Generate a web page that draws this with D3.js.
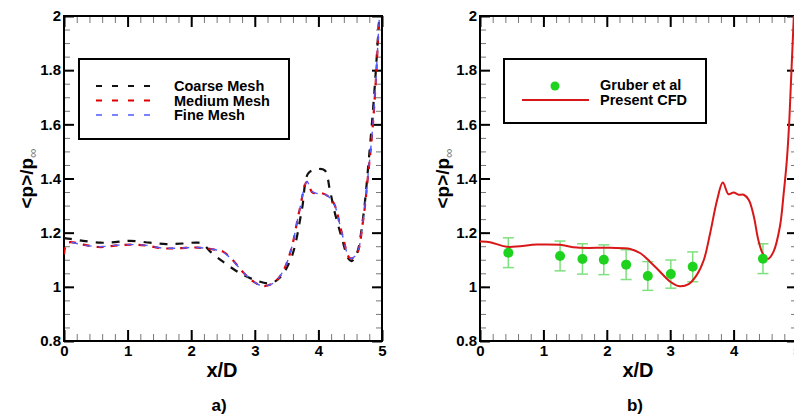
<!DOCTYPE html>
<html>
<head>
<meta charset="utf-8">
<script src="https://cdn.jsdelivr.net/npm/d3@7"></script>
<style>
  body { margin: 0; background: #fff; }
  svg { display: block; font-family: "Liberation Sans", Arial, sans-serif; }
  .tick text { font-size: 15px; font-weight: bold; fill: #000; }
</style>
</head>
<body>
<div id="vis"></div>
<script>
// ---- data ----
var xCoarse = [0, 0.1, 0.3, 0.57, 0.8, 1.04, 1.35, 1.61, 1.87, 2.11, 2.2, 2.3, 2.5, 2.77, 3.03, 3.24, 3.4, 3.58, 3.74, 3.84, 3.97, 4.1, 4.18, 4.26, 4.37, 4.47, 4.52, 4.6, 4.7, 4.8, 4.88, 4.95, 4.98];
var pCoarse = [1.18, 1.177, 1.17, 1.163, 1.165, 1.17, 1.163, 1.158, 1.16, 1.163, 1.155, 1.13, 1.093, 1.05, 1.023, 1.013, 1.035, 1.111, 1.284, 1.419, 1.434, 1.43, 1.358, 1.272, 1.179, 1.105, 1.095, 1.12, 1.25, 1.49, 1.72, 1.97, 2.08];

var xMedium = [0, 0.04, 0.1, 0.3, 0.55, 0.8, 1.05, 1.3, 1.55, 1.8, 2.1, 2.35, 2.5, 2.65, 2.8, 2.98, 3.13, 3.3, 3.45, 3.58, 3.7, 3.82, 3.9, 3.97, 4.05, 4.15, 4.25, 4.37, 4.5, 4.6, 4.7, 4.78, 4.85, 4.9, 4.95];
var pMedium = [1.12, 1.16, 1.165, 1.156, 1.147, 1.152, 1.156, 1.152, 1.142, 1.143, 1.145, 1.138, 1.13, 1.1, 1.058, 1.019, 1.003, 1.015, 1.06, 1.145, 1.28, 1.388, 1.35, 1.345, 1.346, 1.335, 1.305, 1.198, 1.105, 1.12, 1.24, 1.41, 1.58, 1.75, 1.97];

var xFine = [0, 0.1, 0.3, 0.55, 0.8, 1.05, 1.3, 1.55, 1.8, 2.1, 2.35, 2.5, 2.65, 2.8, 2.98, 3.13, 3.3, 3.45, 3.58, 3.7, 3.82, 3.9, 3.97, 4.05, 4.15, 4.25, 4.37, 4.5, 4.6, 4.7, 4.78, 4.85, 4.9, 4.96, 4.99];
var pFine = [1.165, 1.165, 1.155, 1.148, 1.153, 1.156, 1.153, 1.143, 1.143, 1.145, 1.138, 1.128, 1.098, 1.058, 1.019, 1.003, 1.015, 1.06, 1.145, 1.28, 1.388, 1.352, 1.345, 1.346, 1.335, 1.305, 1.198, 1.105, 1.12, 1.24, 1.41, 1.58, 1.75, 2.0, 2.1];

var xCfd = [0, 0.16, 0.42, 0.9, 1.26, 1.53, 2.05, 2.37, 2.53, 2.68, 2.84, 3.0, 3.13, 3.29, 3.42, 3.53, 3.63, 3.74, 3.83, 3.92, 4.0, 4.08, 4.16, 4.24, 4.32, 4.39, 4.47, 4.54, 4.63, 4.73, 4.79, 4.84, 4.88, 4.95, 4.98];
var pCfd = [1.167, 1.165, 1.148, 1.156, 1.155, 1.145, 1.144, 1.14, 1.124, 1.093, 1.056, 1.019, 1.003, 1.01, 1.044, 1.099, 1.198, 1.321, 1.385, 1.342, 1.348, 1.34, 1.34, 1.321, 1.259, 1.173, 1.118, 1.103, 1.13, 1.222, 1.345, 1.468, 1.62, 2.0, 2.1];

var xExp = [0.447, 1.263, 1.616, 1.953, 2.305, 2.647, 3.01, 3.355, 4.463];
var pExp = [1.126, 1.114, 1.103, 1.1, 1.082, 1.04, 1.047, 1.074, 1.104];
var errExp = [0.055, 0.055, 0.056, 0.055, 0.055, 0.053, 0.052, 0.055, 0.055];

var xTicks = [0, 1, 2, 3, 4, 5];
var yTicks = [0.8, 1, 1.2, 1.4, 1.6, 1.8, 2];

var plotTop = 16, plotBottom = 341;

var svg = d3.select("#vis").append("svg")
  .attr("width", 794)
  .attr("height", 416);

function zip(xs, ys) {
  return xs.map(function(d, i) { return [d, ys[i]]; });
}

function panel(id, left, right, xLabelX, yLabelX, tag) {
  var x = d3.scaleLinear().domain([0, 5]).range([left, right]);
  var y = d3.scaleLinear().domain([0.8, 2]).range([plotBottom, plotTop]);
  var g = svg.append("g");

  g.append("clipPath").attr("id", "clip" + id)
    .append("rect")
    .attr("x", left).attr("y", plotTop)
    .attr("width", right - left).attr("height", plotBottom - plotTop);

  var xMinor = d3.range(0, 5.001, 0.2);
  var yMinor = d3.range(0.8, 2.001, 0.05);

  function fmt(d) { return d3.format("~g")(d); }

  // minor ticks, all four sides
  var mnr = g.append("g");
  mnr.append("g").attr("transform", "translate(0," + plotBottom + ")")
    .call(d3.axisBottom(x).tickValues(xMinor).tickSize(-7).tickFormat(""));
  mnr.append("g").attr("transform", "translate(0," + plotTop + ")")
    .call(d3.axisTop(x).tickValues(xMinor).tickSize(-7).tickFormat(""));
  mnr.append("g").attr("transform", "translate(" + left + ",0)")
    .call(d3.axisLeft(y).tickValues(yMinor).tickSize(-6).tickFormat(""));
  mnr.append("g").attr("transform", "translate(" + right + ",0)")
    .call(d3.axisRight(y).tickValues(yMinor).tickSize(-6).tickFormat(""));
  mnr.selectAll("line").attr("stroke", "#777").attr("stroke-width", 1);

  // major ticks
  var maj = g.append("g");
  maj.append("g").attr("transform", "translate(0," + plotBottom + ")")
    .call(d3.axisBottom(x).tickValues(xTicks).tickSize(-11).tickPadding(4).tickFormat(fmt));
  maj.append("g").attr("transform", "translate(0," + plotTop + ")")
    .call(d3.axisTop(x).tickValues(xTicks).tickSize(-11).tickFormat(""));
  maj.append("g").attr("transform", "translate(" + left + ",0)")
    .call(d3.axisLeft(y).tickValues(yTicks).tickSize(-10).tickPadding(3).tickFormat(fmt));
  maj.append("g").attr("transform", "translate(" + right + ",0)")
    .call(d3.axisRight(y).tickValues(yTicks).tickSize(-10).tickFormat(""));
  maj.selectAll("line").attr("stroke", "#000").attr("stroke-width", 2);
  g.selectAll(".domain").remove();
  g.selectAll(".tick text").attr("font-family", null).attr("font-size", null);

  g.append("rect")
    .attr("x", left).attr("y", plotTop)
    .attr("width", right - left).attr("height", plotBottom - plotTop)
    .attr("fill", "none").attr("stroke", "#000").attr("stroke-width", 2);

  g.append("text")
    .attr("x", xLabelX).attr("y", 377)
    .attr("text-anchor", "middle")
    .attr("font-size", 20).attr("font-weight", "bold")
    .text("x/D");

  var yl = g.append("text")
    .attr("transform", "translate(" + yLabelX + "," + ((plotTop + plotBottom) / 2) + ") rotate(-90)")
    .attr("text-anchor", "middle")
    .attr("font-size", 19).attr("font-weight", "bold");
  yl.append("tspan").text("<p>/p");
  yl.append("tspan").attr("font-size", 13).attr("font-weight", "normal")
    .attr("fill", "#777").attr("dy", 4).text("\u221e");

  g.append("text")
    .attr("x", xLabelX - 3).attr("y", 411)
    .attr("text-anchor", "middle")
    .attr("font-size", 17).attr("font-weight", "bold")
    .text(tag);

  var line = d3.line()
    .x(function(d) { return x(d[0]); })
    .y(function(d) { return y(d[1]); })
    .curve(d3.curveCatmullRom.alpha(0.5));

  var plot = g.append("g").attr("clip-path", "url(#clip" + id + ")");
  return { x: x, y: y, g: g, plot: plot, line: line };
}

// ---- panel a ----
var a = panel("a", 64, 382, 222, 33, "a)");

a.plot.append("path").datum(zip(xCoarse, pCoarse))
  .attr("d", a.line).attr("fill", "none")
  .attr("stroke", "#111").attr("stroke-width", 2.2).attr("stroke-dasharray", "8,8");
a.plot.append("path").datum(zip(xMedium, pMedium))
  .attr("d", a.line).attr("fill", "none")
  .attr("stroke", "#e00000").attr("stroke-width", 2.2).attr("stroke-dasharray", "7,7");
a.plot.append("path").datum(zip(xFine, pFine))
  .attr("d", a.line).attr("fill", "none")
  .attr("stroke", "#4f5cff").attr("stroke-width", 1.4).attr("stroke-dasharray", "7,7")
  .attr("stroke-dashoffset", 7);

var legA = a.g.append("g");
legA.append("rect")
  .attr("x", 79).attr("y", 59).attr("width", 210).attr("height", 80)
  .attr("fill", "#fff").attr("stroke", "#000").attr("stroke-width", 2);
var legItems = [
  { name: "Coarse Mesh", color: "#111", w: 2.2 },
  { name: "Medium Mesh", color: "#e00000", w: 2.2 },
  { name: "Fine Mesh", color: "#4f5cff", w: 1.4 }
];
legItems.forEach(function(d, i) {
  var yy = 86 + i * 14.5;
  legA.append("line")
    .attr("x1", 96).attr("x2", 157).attr("y1", yy).attr("y2", yy)
    .attr("stroke", d.color).attr("stroke-width", d.w).attr("stroke-dasharray", "6,10");
  legA.append("text")
    .attr("x", 174).attr("y", yy + 5)
    .attr("font-size", 14.5).attr("font-weight", "bold")
    .text(d.name);
});

// ---- panel b ----
var b = panel("b", 480, 797, 638, 449, "b)");

var exp = zip(xExp, pExp).map(function(d, i) { return { x: d[0], p: d[1], e: errExp[i] }; });
var eb = b.plot.append("g").attr("stroke", "#7ee07e").attr("stroke-width", 1.5);
eb.selectAll(".v").data(exp).enter().append("line")
  .attr("x1", function(d) { return b.x(d.x); }).attr("x2", function(d) { return b.x(d.x); })
  .attr("y1", function(d) { return b.y(d.p + d.e); }).attr("y2", function(d) { return b.y(d.p - d.e); });
[1, -1].forEach(function(s) {
  eb.selectAll(".c" + s).data(exp).enter().append("line")
    .attr("x1", function(d) { return b.x(d.x) - 5.5; }).attr("x2", function(d) { return b.x(d.x) + 5.5; })
    .attr("y1", function(d) { return b.y(d.p + s * d.e); }).attr("y2", function(d) { return b.y(d.p + s * d.e); });
});

b.plot.append("path").datum(zip(xCfd, pCfd))
  .attr("d", b.line).attr("fill", "none")
  .attr("stroke", "#d81818").attr("stroke-width", 2);

b.plot.selectAll("circle").data(exp).enter().append("circle")
  .attr("cx", function(d) { return b.x(d.x); })
  .attr("cy", function(d) { return b.y(d.p); })
  .attr("r", 5)
  .attr("fill", "#1ed21e");

var legB = b.g.append("g");
legB.append("rect")
  .attr("x", 504).attr("y", 59).attr("width", 202).attr("height", 64)
  .attr("fill", "#fff").attr("stroke", "#000").attr("stroke-width", 2);
legB.append("circle").attr("cx", 555).attr("cy", 86).attr("r", 4.5).attr("fill", "#1ed21e");
legB.append("line").attr("x1", 522).attr("x2", 589).attr("y1", 100).attr("y2", 100)
  .attr("stroke", "#d81818").attr("stroke-width", 2);
legB.append("text").attr("x", 600).attr("y", 90)
  .attr("font-size", 14.5).attr("font-weight", "bold").text("Gruber et al");
legB.append("text").attr("x", 600).attr("y", 105)
  .attr("font-size", 14.5).attr("font-weight", "bold").text("Present CFD");
</script>
</body>
</html>
